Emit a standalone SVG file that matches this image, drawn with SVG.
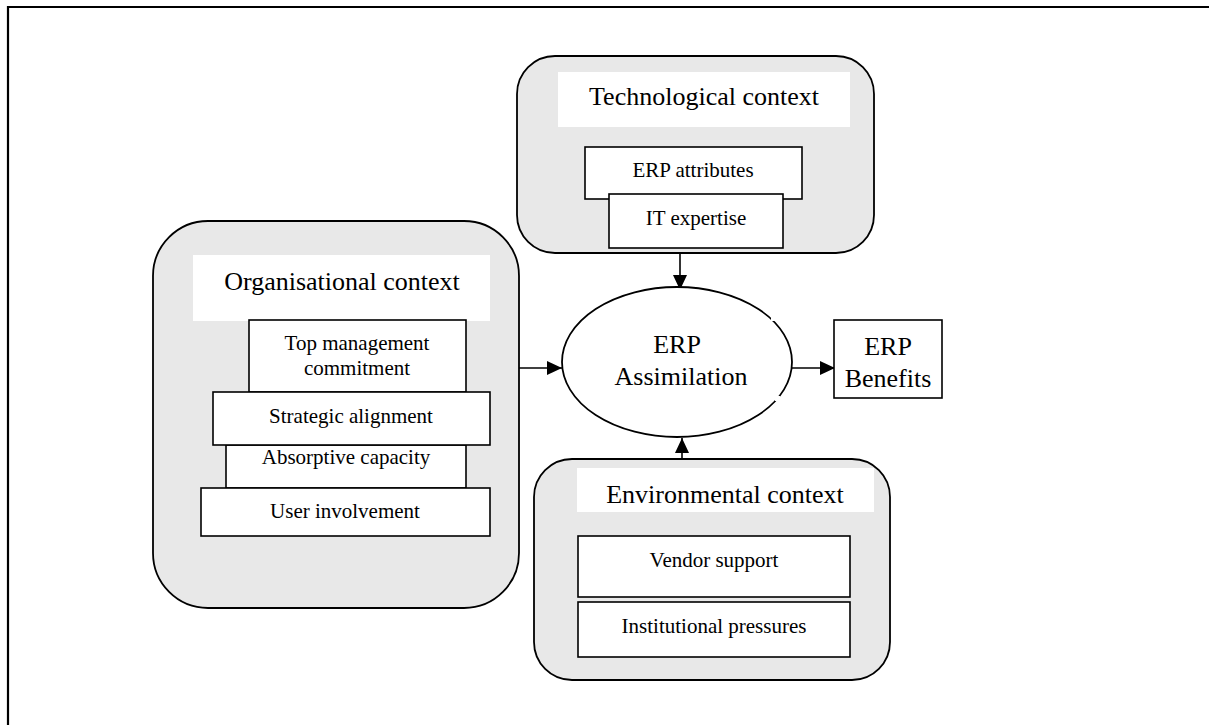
<svg xmlns="http://www.w3.org/2000/svg" width="1209" height="725" viewBox="0 0 1209 725">
  <defs>
    <marker id="arrow" markerUnits="userSpaceOnUse" markerWidth="16" markerHeight="14" refX="15" refY="7" orient="auto">
      <path d="M0,0 L15,7 L0,14 Z" fill="#000"/>
    </marker>
    <style>
      text { font-family: "Liberation Serif", "Times New Roman", serif; fill: #000; text-anchor: middle; }
      .ctx { fill: #e8e8e8; stroke: #000; stroke-width: 1.8; }
      .lbl { fill: #fff; stroke: none; }
      .box { fill: #fff; stroke: #000; stroke-width: 1.6; }
      .big { font-size: 26px; }
      .small { font-size: 21px; }
      .edge { stroke: #000; stroke-width: 1.6; fill: none; marker-end: url(#arrow); }
    </style>
  </defs>

  <rect width="1209" height="725" fill="#fff"/>
  <!-- outer frame (top and left sides) -->
  <path d="M8,725 L8,7 L1209,7" fill="none" stroke="#000" stroke-width="2.2"/>

  <!-- connectors -->
  <g id="connectors">
    <line class="edge" x1="680" y1="253" x2="680" y2="290"/>
    <line class="edge" x1="517" y1="368" x2="562" y2="368"/>
    <line class="edge" x1="792" y1="368" x2="835" y2="368"/>
    <line class="edge" x1="682" y1="459" x2="682" y2="438"/>
  </g>

  <g id="technological-context">
    <rect class="ctx" x="517" y="56" width="357" height="197" rx="38" ry="38"/>
    <rect class="lbl" x="558" y="72" width="292" height="55"/>
    <text class="big" x="704" y="105">Technological context</text>
    <rect class="box" x="585" y="147" width="217" height="52" stroke-width="2.2"/>
    <text class="small" x="693" y="177">ERP attributes</text>
    <rect class="box" x="609" y="194" width="174" height="54"/>
    <text class="small" x="696" y="225">IT expertise</text>
  </g>

  <g id="organisational-context">
    <rect class="ctx" x="153" y="221" width="366" height="387" rx="55" ry="55"/>
    <rect class="lbl" x="193" y="255" width="297" height="66"/>
    <text class="big" x="342" y="290">Organisational context</text>
    <rect class="box" x="249" y="320" width="217" height="72"/>
    <text class="small" x="357" y="350">Top management</text>
    <text class="small" x="357" y="375">commitment</text>
    <rect class="box" x="226" y="445" width="240" height="43"/>
    <text class="small" x="346" y="464">Absorptive capacity</text>
    <rect class="box" x="213" y="392" width="277" height="53"/>
    <text class="small" x="351" y="423">Strategic alignment</text>
    <rect class="box" x="201" y="488" width="289" height="48"/>
    <text class="small" x="345" y="518">User involvement</text>
  </g>

  <g id="erp-assimilation">
    <ellipse cx="677" cy="362" rx="115" ry="75" fill="#fff" stroke="#000" stroke-width="1.8"/>
    <!-- small breaks in the outline -->
    <rect x="771" y="316" width="5" height="5" fill="#fff"/>
    <rect x="775" y="396" width="5" height="5" fill="#fff"/>
    <text class="big" x="677" y="353">ERP</text>
    <text class="big" x="681" y="385">Assimilation</text>
  </g>

  <g id="erp-benefits">
    <rect class="box" x="834" y="320" width="108" height="78"/>
    <text class="big" x="888" y="355">ERP</text>
    <text class="big" x="888" y="387">Benefits</text>
  </g>

  <g id="environmental-context">
    <rect class="ctx" x="534" y="459" width="356" height="221" rx="38" ry="38"/>
    <rect class="lbl" x="577" y="468" width="297" height="44"/>
    <text class="big" x="725" y="503">Environmental context</text>
    <rect class="box" x="578" y="536" width="272" height="61"/>
    <text class="small" x="714" y="567">Vendor support</text>
    <rect class="box" x="578" y="602" width="272" height="55"/>
    <text class="small" x="714" y="633">Institutional pressures</text>
  </g>
</svg>
